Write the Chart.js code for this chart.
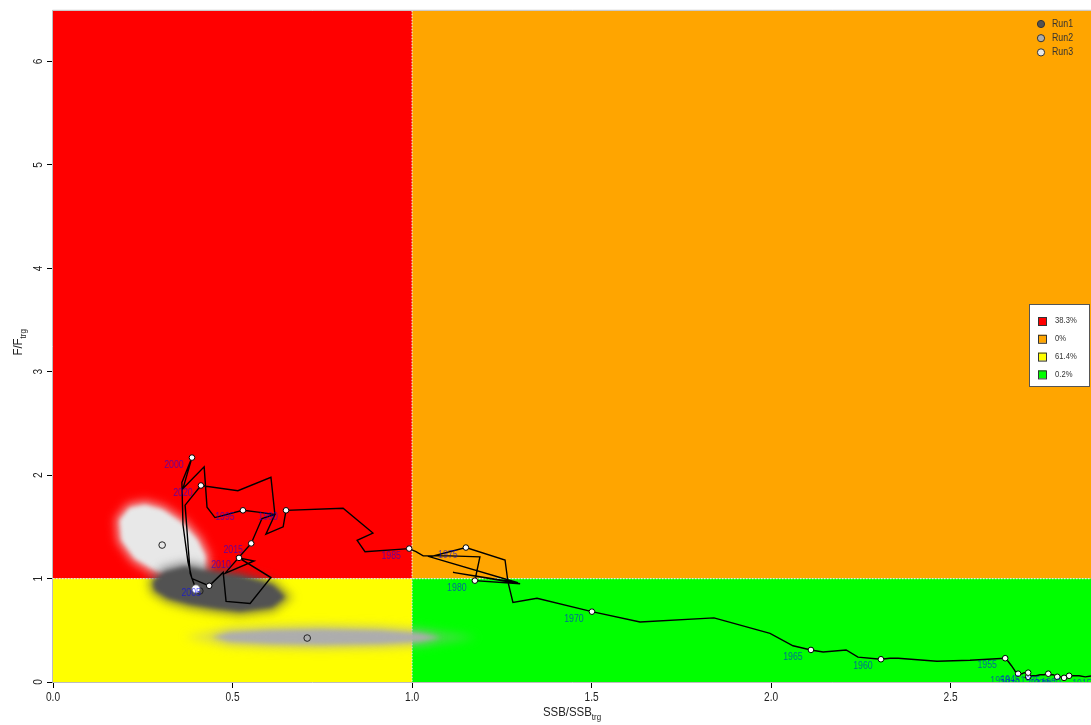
<!DOCTYPE html>
<html>
<head>
<meta charset="utf-8">
<title>Kobe plot</title>
<script src="https://cdn.jsdelivr.net/npm/chart.js@4.4.1/dist/chart.umd.min.js"></script>
<style>
  html, body { margin: 0; padding: 0; background: #fff; }
  canvas { display: block; }
</style>
</head>
<body>
<canvas id="kobeChart" width="1091" height="725"></canvas>
<script>
// ---- data ----
const years = [
  1915, 1916, 1917, 1918, 1919, 1920, 1921, 1922, 1923, 1924,
  1925, 1926, 1927, 1928, 1929, 1930, 1931, 1932, 1933, 1934,
  1935, 1936, 1937, 1938, 1939, 1940, 1941, 1942, 1943, 1944,
  1945, 1946, 1947, 1948, 1949, 1950, 1951, 1952, 1953, 1954,
  1955, 1956, 1957, 1958, 1959, 1960, 1961, 1962, 1963, 1964,
  1965, 1966, 1967, 1968, 1969, 1970, 1971, 1972, 1973, 1974,
  1975, 1976, 1977, 1978, 1979, 1980, 1981, 1982, 1983, 1984,
  1985, 1986, 1987, 1988, 1989, 1990, 1991, 1992, 1993, 1994,
  1995, 1996, 1997, 1998, 1999, 2000, 2001, 2002, 2003, 2004,
  2005, 2006, 2007, 2008, 2009, 2010, 2011, 2012, 2013, 2014,
  2015, 2016, 2017, 2018, 2019, 2020, 2021, 2022, 2023
];
// SSB/SSBtrg
const ssbRatio = [
  2.916, 2.894, 2.875, 2.858, 2.844, 2.830, 2.827, 2.825, 2.822, 2.819,
  2.816, 2.811, 2.808, 2.802, 2.799, 2.797, 2.791, 2.786, 2.780, 2.777,
  2.772, 2.760, 2.749, 2.738, 2.727, 2.716, 2.716, 2.717, 2.718, 2.719,
  2.716, 2.710, 2.705, 2.699, 2.694, 2.688, 2.682, 2.677, 2.669, 2.660,
  2.652, 2.554, 2.462, 2.354, 2.331, 2.306, 2.242, 2.209, 2.145, 2.128,
  2.111, 2.061, 1.997, 1.841, 1.635, 1.501, 1.348, 1.281, 1.267, 1.259,
  1.150, 1.050, 1.295, 1.114, 1.301, 1.175, 1.189, 1.106, 1.031, 1.011,
  0.992, 0.869, 0.847, 0.891, 0.808, 0.649, 0.641, 0.593, 0.618, 0.577,
  0.529, 0.451, 0.429, 0.421, 0.362, 0.387, 0.359, 0.362, 0.376, 0.387,
  0.435, 0.474, 0.482, 0.549, 0.607, 0.518, 0.560, 0.479, 0.499, 0.529,
  0.552, 0.582, 0.618, 0.607, 0.515, 0.412, 0.368, 0.382, 0.398
];
// F/Ftrg
const fRatio = [
  0.05, 0.06, 0.05, 0.06, 0.06, 0.06, 0.05, 0.05, 0.04, 0.04,
  0.04, 0.04, 0.05, 0.05, 0.05, 0.05, 0.06, 0.07, 0.07, 0.08,
  0.08, 0.07, 0.07, 0.06, 0.06, 0.05, 0.06, 0.07, 0.08, 0.09,
  0.09, 0.09, 0.09, 0.08, 0.08, 0.08, 0.09, 0.12, 0.16, 0.20,
  0.23, 0.21, 0.20, 0.23, 0.23, 0.22, 0.24, 0.31, 0.29, 0.30,
  0.31, 0.35, 0.47, 0.62, 0.58, 0.68, 0.81, 0.77, 0.97, 1.18,
  1.30, 1.21, 0.96, 1.06, 0.95, 0.98, 1.21, 1.22, 1.22, 1.26,
  1.29, 1.26, 1.37, 1.44, 1.68, 1.66, 1.50, 1.43, 1.62, 1.64,
  1.66, 1.59, 1.69, 2.08, 1.87, 2.17, 1.93, 1.52, 1.16, 1.00,
  0.93, 1.06, 0.78, 0.76, 1.01, 1.20, 1.17, 1.05, 1.13, 1.25,
  1.34, 1.58, 1.62, 1.98, 1.85, 1.90, 1.71, 1.05, 0.90
];

const xTicks = [0, 0.5, 1, 1.5, 2, 2.5];
const yTicks = [0, 1, 2, 3, 4, 5, 6];
const ssbRef = 1;
const fRef = 1;

const quadColors = ['#ff0000', '#ffa500', '#ffff00', '#00ff00'];
const quadLabels = ['38.3%', '0%', '61.4%', '0.2%'];

const runNames = ['Run1', 'Run2', 'Run3'];
const runColors = ['#525252', '#adadad', '#e8e8e8'];
const runCenterSsb = [0.409, 0.708, 0.304];
const runCenterF = [0.880, 0.425, 1.324];

// outline of each run's cloud of uncertainty samples
const run1CloudSsb = [0.279, 0.312, 0.368, 0.437, 0.521, 0.610, 0.646, 0.610, 0.521, 0.451, 0.382, 0.320, 0.284];
const run1CloudF   = [0.966, 1.063, 1.111, 1.063, 1.024, 0.937, 0.821, 0.725, 0.686, 0.715, 0.754, 0.812, 0.889];
const run2CloudSsb = [0.443, 0.493, 0.604, 0.744, 0.911, 1.020, 1.080, 1.020, 0.911, 0.744, 0.604, 0.493];
const run2CloudF   = [0.435, 0.473, 0.493, 0.502, 0.490, 0.465, 0.430, 0.396, 0.377, 0.367, 0.377, 0.396];
const run3CloudSsb = [0.187, 0.214, 0.256, 0.304, 0.359, 0.401, 0.423, 0.421, 0.390, 0.340, 0.284, 0.228, 0.192];
const run3CloudF   = [1.565, 1.681, 1.710, 1.662, 1.536, 1.372, 1.217, 1.063, 0.986, 1.005, 1.082, 1.198, 1.372];

const clouds = [
  { ssb: run1CloudSsb, f: run1CloudF, color: runColors[0] },
  { ssb: run2CloudSsb, f: run2CloudF, color: runColors[1] },
  { ssb: run3CloudSsb, f: run3CloudF, color: runColors[2] }
];

const FONT = "'Liberation Sans', Arial, sans-serif";

// R output looks horizontally squeezed, so text is drawn condensed
function condText(ctx, text, x, y, sx) {
  ctx.save();
  ctx.translate(x, y);
  ctx.scale(sx, 1);
  ctx.fillText(text, 0, 0);
  ctx.restore();
}

function cloudPath(ctx, c, sx, sy) {
  ctx.beginPath();
  c.ssb.forEach((v, i) => {
    const px = sx.getPixelForValue(v);
    const py = sy.getPixelForValue(c.f[i]);
    if (i === 0) ctx.moveTo(px, py); else ctx.lineTo(px, py);
  });
  ctx.closePath();
}

// background quadrants + clouds
const kobeBackground = {
  id: 'kobeBackground',
  beforeDatasetsDraw(chart) {
    const { ctx, chartArea: a, scales: { x, y } } = chart;
    const xr = x.getPixelForValue(ssbRef);
    const yr = y.getPixelForValue(fRef);
    ctx.save();
    ctx.beginPath();
    ctx.rect(a.left, a.top, a.right - a.left, a.bottom - a.top);
    ctx.clip();

    ctx.fillStyle = quadColors[0]; ctx.fillRect(a.left, a.top, xr - a.left, yr - a.top);
    ctx.fillStyle = quadColors[1]; ctx.fillRect(xr, a.top, a.right - xr, yr - a.top);
    ctx.fillStyle = quadColors[2]; ctx.fillRect(a.left, yr, xr - a.left, a.bottom - yr);
    ctx.fillStyle = quadColors[3]; ctx.fillRect(xr, yr, a.right - xr, a.bottom - yr);

    ctx.strokeStyle = 'rgba(235,235,235,0.95)';
    ctx.lineWidth = 1.2;
    ctx.setLineDash([1.5, 1.5]);
    ctx.beginPath();
    ctx.moveTo(xr, a.top); ctx.lineTo(xr, a.bottom);
    ctx.moveTo(a.left, yr); ctx.lineTo(a.right, yr);
    ctx.stroke();
    ctx.setLineDash([]);

    // draw Run3 first, Run1 on top
    for (let k = clouds.length - 1; k >= 0; k--) {
      const c = clouds[k];
      ctx.fillStyle = c.color;
      ctx.strokeStyle = c.color;
      ctx.filter = 'blur(5px)';
      ctx.globalAlpha = 0.4;
      cloudPath(ctx, c, x, y);
      ctx.lineWidth = 12;
      ctx.stroke();
      ctx.globalAlpha = 0.85;
      ctx.fill();
      ctx.filter = 'blur(2px)';
      ctx.globalAlpha = 1;
      cloudPath(ctx, c, x, y);
      ctx.fill();
      ctx.filter = 'none';
    }
    ctx.restore();
  }
};

// year labels every 5 years
const yearLabels = {
  id: 'yearLabels',
  afterDatasetsDraw(chart) {
    const { ctx, chartArea: a, scales: { x, y } } = chart;
    ctx.save();
    ctx.beginPath();
    ctx.rect(a.left, a.top, a.right - a.left, a.bottom - a.top);
    ctx.clip();
    ctx.font = '11px ' + FONT;
    ctx.fillStyle = 'rgba(0,0,255,0.6)';
    ctx.textAlign = 'center';
    ctx.textBaseline = 'middle';
    years.forEach((yr, i) => {
      if (yr % 5 !== 0) return;
      const px = x.getPixelForValue(ssbRatio[i]);
      const py = y.getPixelForValue(fRatio[i]);
      condText(ctx, String(yr), px - 18, py + 7, 0.8);
    });
    ctx.restore();
  }
};

// frame, tick labels, axis titles, legends
const decorations = {
  id: 'decorations',
  afterDraw(chart) {
    const { ctx, chartArea: a, scales: { x, y } } = chart;
    ctx.save();
    ctx.strokeStyle = '#bdbdbd';
    ctx.lineWidth = 1;
    ctx.beginPath();
    ctx.moveTo(a.right + 2, a.top - 0.5);
    ctx.lineTo(a.left - 0.5, a.top - 0.5);
    ctx.lineTo(a.left - 0.5, a.bottom + 0.5);
    ctx.lineTo(a.right + 2, a.bottom + 0.5);
    ctx.stroke();

    ctx.fillStyle = '#222';
    ctx.font = '13px ' + FONT;
    ctx.textAlign = 'center';
    ctx.textBaseline = 'middle';
    // x tick labels
    xTicks.forEach(v => {
      condText(ctx, v.toFixed(1), x.getPixelForValue(v), 697, 0.78);
    });
    // y tick labels, rotated like R's las=0
    yTicks.forEach(v => {
      ctx.save();
      ctx.translate(38, y.getPixelForValue(v));
      ctx.rotate(-Math.PI / 2);
      ctx.scale(0.78, 1);
      ctx.fillText(String(v), 0, 0);
      ctx.restore();
    });

    // axis titles with subscript
    const mainFont = '13px ' + FONT, subFont = '9px ' + FONT;
    const sq = 0.88;
    ctx.textAlign = 'left';
    ctx.textBaseline = 'alphabetic';
    const sub = 'trg';
    ctx.font = subFont;
    const w2 = ctx.measureText(sub).width * sq;

    const xMain = 'SSB/SSB';
    ctx.font = mainFont;
    const w1 = ctx.measureText(xMain).width * sq;
    const sx = (a.left + a.right) / 2 - (w1 + w2) / 2;
    ctx.font = mainFont; condText(ctx, xMain, sx, 716, sq);
    ctx.font = subFont; condText(ctx, sub, sx + w1, 720, sq);

    const yMain = 'F/F';
    ctx.font = mainFont;
    const w3 = ctx.measureText(yMain).width * sq;
    ctx.save();
    ctx.translate(22, (a.top + a.bottom) / 2 - 4);
    ctx.rotate(-Math.PI / 2);
    const sy = -(w3 + w2) / 2;
    ctx.font = mainFont; condText(ctx, yMain, sy, 0, sq);
    ctx.font = subFont; condText(ctx, sub, sy + w3, 4, sq);
    ctx.restore();

    // run legend (top right)
    ctx.font = '10px ' + FONT;
    ctx.textBaseline = 'middle';
    runNames.forEach((n, i) => {
      const cy = 24 + 14.2 * i;
      ctx.beginPath();
      ctx.arc(1041, cy, 3.6, 0, Math.PI * 2);
      ctx.fillStyle = runColors[i];
      ctx.fill();
      ctx.strokeStyle = '#333';
      ctx.lineWidth = 1;
      ctx.stroke();
      ctx.fillStyle = '#333';
      condText(ctx, n, 1052, cy, 0.88);
    });

    // quadrant probability legend
    ctx.fillStyle = '#fff';
    ctx.fillRect(1029, 304, 61, 83);
    ctx.strokeStyle = '#555';
    ctx.strokeRect(1029.5, 304.5, 60, 82);
    ctx.font = '9px ' + FONT;
    quadLabels.forEach((t, i) => {
      const cy = 321 + 17.8 * i;
      ctx.fillStyle = quadColors[i];
      ctx.fillRect(1038, cy - 4, 8, 8);
      ctx.strokeStyle = '#333';
      ctx.strokeRect(1038.5, cy - 3.5, 8, 8);
      ctx.fillStyle = '#333';
      condText(ctx, t, 1055, cy, 0.85);
    });
    ctx.restore();
  }
};

const lastIdx = years.length - 1;

new Chart(document.getElementById('kobeChart'), {
  type: 'scatter',
  data: {
    datasets: [
      {
        label: 'trajectory',
        data: years.map((yr, i) => ({ x: ssbRatio[i], y: fRatio[i] })),
        showLine: true,
        borderColor: '#000',
        borderWidth: 1.4,
        pointRadius: years.map((yr, i) => i === lastIdx ? 4.2 : (yr % 5 === 0 ? 2.8 : 0)),
        pointBackgroundColor: '#fff',
        pointBorderColor: years.map((yr, i) => i === lastIdx ? '#666' : '#000'),
        pointBorderWidth: 1,
        pointHoverRadius: 0
      },
      {
        label: 'run centres',
        data: runCenterSsb.map((v, i) => ({ x: v, y: runCenterF[i] })),
        showLine: false,
        pointRadius: 3.3,
        pointBackgroundColor: runColors,
        pointBorderColor: '#222',
        pointBorderWidth: 1
      }
    ]
  },
  options: {
    responsive: false,
    animation: false,
    events: [],
    layout: { autoPadding: false, padding: { top: 10, right: 0, left: 0, bottom: 0 } },
    plugins: {
      legend: { display: false },
      tooltip: { enabled: false }
    },
    scales: {
      x: {
        type: 'linear',
        min: 0,
        max: 2.891,
        afterBuildTicks: s => { s.ticks = xTicks.map(v => ({ value: v })); },
        afterFit: s => { s.height = 43; },
        ticks: { color: 'rgba(0,0,0,0)', font: { family: FONT, size: 13 }, maxRotation: 0 },
        grid: { drawOnChartArea: false, drawTicks: true, tickLength: 6, tickColor: '#000', tickWidth: 1 },
        border: { display: false }
      },
      y: {
        type: 'linear',
        min: 0,
        max: 6.49,
        afterBuildTicks: s => { s.ticks = yTicks.map(v => ({ value: v })); },
        afterFit: s => { s.width = 53; },
        ticks: { color: 'rgba(0,0,0,0)', font: { family: FONT, size: 13 } },
        grid: { drawOnChartArea: false, drawTicks: true, tickLength: 6, tickColor: '#000', tickWidth: 1 },
        border: { display: false }
      }
    }
  },
  plugins: [kobeBackground, yearLabels, decorations]
});
</script>
</body>
</html>
